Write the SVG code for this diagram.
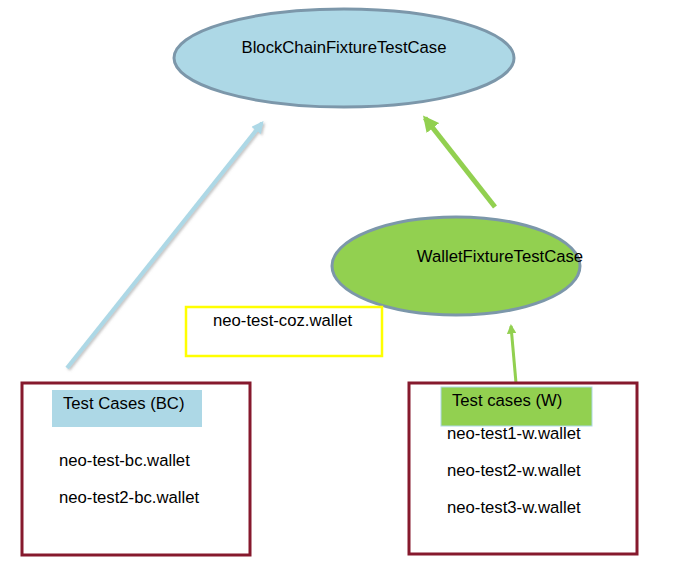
<svg xmlns="http://www.w3.org/2000/svg" width="692" height="573" viewBox="0 0 692 573">
<defs>
<style>
text{font-family:"Liberation Sans",Arial,sans-serif;font-size:16.7px;fill:#000}
.ell{stroke:#7C97AA;stroke-width:3}
.box{fill:#fff;stroke:#86192D;stroke-width:3}
</style>
<marker id="hb" viewBox="0 0 10 10" refX="8" refY="5" markerWidth="3" markerHeight="3" orient="auto" markerUnits="strokeWidth"><path d="M0,0 L10,5 L0,10 z" fill="#ADD8E6"/></marker>
<marker id="hg" viewBox="0 0 10 10" refX="8" refY="5" markerWidth="3.2" markerHeight="3.2" orient="auto" markerUnits="strokeWidth"><path d="M0,0 L10,5 L0,10 z" fill="#92D050"/></marker>
<filter id="sh" x="-20%" y="-20%" width="140%" height="140%"><feDropShadow dx="1.5" dy="1.5" stdDeviation="1" flood-color="#888" flood-opacity="0.5"/></filter>
</defs>
<g id="connectors">
<line x1="67" y1="368" x2="262" y2="123" stroke="#ADD8E6" stroke-width="4" marker-end="url(#hb)" filter="url(#sh)"/>
<line x1="495" y1="207" x2="425" y2="118" stroke="#92D050" stroke-width="5" marker-end="url(#hg)"/>
<line x1="516" y1="383" x2="511" y2="326" stroke="#92D050" stroke-width="3" marker-end="url(#hg)"/>
</g>
<g id="blockchain">
<ellipse class="ell" cx="344" cy="58" rx="170" ry="49" fill="#ADD8E6"/>
<text x="344" y="53" text-anchor="middle">BlockChainFixtureTestCase</text>
</g>
<g id="wallet">
<ellipse class="ell" cx="456" cy="266" rx="124" ry="49" fill="#92D050"/>
<text x="500" y="262" text-anchor="middle">WalletFixtureTestCase</text>
</g>
<g id="coz">
<rect x="186" y="307" width="196" height="49" fill="#fff" stroke="#FFFF00" stroke-width="2.5"/>
<text x="213" y="326">neo-test-coz.wallet</text>
</g>
<g id="testcases-bc">
<rect class="box" x="22" y="383" width="228" height="172"/>
<rect x="52" y="390" width="150" height="37" fill="#ADD8E6"/>
<text x="63" y="409">Test Cases (BC)</text>
<text x="59" y="466">neo-test-bc.wallet</text>
<text x="59" y="503">neo-test2-bc.wallet</text>
</g>
<g id="testcases-w">
<rect class="box" x="409" y="383" width="228" height="171"/>
<rect x="441" y="387" width="151" height="39" fill="#92D050" stroke="#ADD8E6" stroke-width="1"/>
<text x="452" y="406">Test cases (W)</text>
<text x="447" y="439">neo-test1-w.wallet</text>
<text x="447" y="476">neo-test2-w.wallet</text>
<text x="447" y="513">neo-test3-w.wallet</text>
</g>
</svg>
